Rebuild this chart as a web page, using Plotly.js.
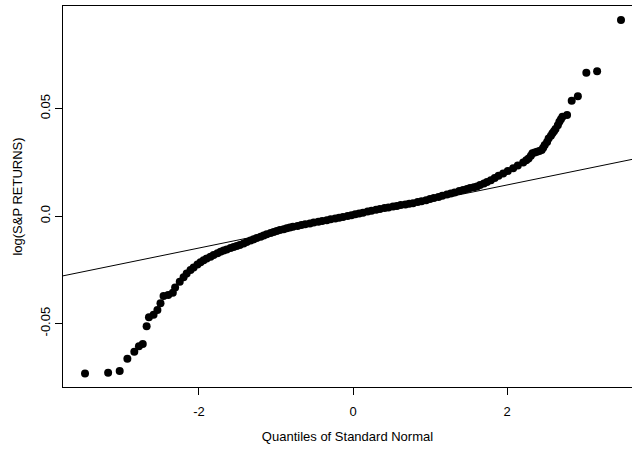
<!DOCTYPE html>
<html>
<head>
<meta charset="utf-8">
<script src="https://cdn.plot.ly/plotly-3.0.1.min.js"></script>
<style>html,body{margin:0;padding:0;background:#fff;}#chart{width:632px;height:450px;}</style>
</head>
<body>
<div id="chart"></div>
<script>
// Theoretical normal quantiles (x) and sample quantiles of log S&P returns (y)
const quantX = [
  -3.48, -3.18, -3.03, -2.93, -2.84, -2.78, -2.73, -2.68, -2.65, -2.59, -2.54, -2.50, -2.46, -2.40, -2.34, -2.31,
  -2.25, -2.20, -2.16, -2.11, -2.07, -2.02, -1.98, -1.94, -1.90, -1.85, -1.81, -1.76, -1.72, -1.68, -1.64, -1.59,
  -1.55, -1.51, -1.47, -1.42, -1.38, -1.33, -1.29, -1.25, -1.20, -1.16, -1.12, -1.07, -1.03, -0.99, -0.95, -0.90,
  -0.86, -0.82, -0.78, -0.72, -0.67, -0.62, -0.56, -0.51, -0.45, -0.40, -0.34, -0.29, -0.23, -0.18, -0.13, -0.07,
  -0.02, 0.03, 0.08, 0.13, 0.19, 0.24, 0.30, 0.35, 0.41, 0.46, 0.52, 0.57, 0.62, 0.68, 0.73, 0.78,
  0.84, 0.89, 0.95, 1.00, 1.05, 1.11, 1.16, 1.22, 1.27, 1.32, 1.38, 1.43, 1.48, 1.52, 1.57, 1.61,
  1.65, 1.70, 1.74, 1.79, 1.84, 1.89, 1.95, 2.01, 2.08, 2.14, 2.21, 2.25, 2.28, 2.31, 2.33, 2.36,
  2.39, 2.42, 2.45, 2.47, 2.49, 2.52, 2.54, 2.57, 2.59, 2.61, 2.63, 2.66, 2.68, 2.70, 2.72, 2.78,
  2.84, 2.92, 3.03, 3.17, 3.48
];
const logReturns = [
  -0.0732, -0.0729, -0.0721, -0.0664, -0.0631, -0.0606, -0.0595, -0.0512, -0.0471, -0.0459, -0.0437, -0.0405, -0.0372, -0.0367, -0.0357, -0.0332,
  -0.0306, -0.0284, -0.0267, -0.0251, -0.0239, -0.0225, -0.0215, -0.0205, -0.0197, -0.0189, -0.0181, -0.0173, -0.0166, -0.0160, -0.0155, -0.0149,
  -0.0144, -0.0139, -0.0135, -0.0128, -0.0121, -0.0114, -0.0108, -0.0102, -0.0096, -0.0090, -0.0085, -0.0079, -0.0074, -0.0069, -0.0065, -0.0061,
  -0.0057, -0.0053, -0.0050, -0.0046, -0.0042, -0.0038, -0.0034, -0.0030, -0.0026, -0.0023, -0.0019, -0.0015, -0.0011, -0.0008, -0.0004, 0.0000,
  0.0004, 0.0008, 0.0012, 0.0016, 0.0021, 0.0025, 0.0029, 0.0033, 0.0037, 0.0040, 0.0044, 0.0047, 0.0051, 0.0054, 0.0057, 0.0060,
  0.0065, 0.0069, 0.0074, 0.0079, 0.0084, 0.0089, 0.0095, 0.0100, 0.0105, 0.0110, 0.0116, 0.0121, 0.0126, 0.0130, 0.0134, 0.0138,
  0.0145, 0.0152, 0.0158, 0.0167, 0.0177, 0.0187, 0.0198, 0.0210, 0.0222, 0.0235, 0.0249, 0.0260, 0.0268, 0.0280, 0.0292, 0.0296,
  0.0299, 0.0303, 0.0307, 0.0318, 0.0330, 0.0345, 0.0361, 0.0373, 0.0385, 0.0395, 0.0405, 0.0422, 0.0439, 0.0450, 0.0462, 0.0470,
  0.0536, 0.0557, 0.0667, 0.0674, 0.0912
];
// Reference line (qqline)
const lineIntercept = -0.0002;
const lineSlope = 0.00733;
const lineX = [-4, 4];
const lineY = lineX.map(v => lineIntercept + lineSlope * v);

const xTickVals = [-2, 0, 2];
const xTickText = ["-2", "0", "2"];
const yTickVals = [-0.05, 0, 0.05];
const yTickText = ["-0.05", "0.0", "0.05"];

const font = {family: "Liberation Sans, Arial, sans-serif", size: 13, color: "#000"};

const traces = [
  {x: lineX, y: lineY, type: "scatter", mode: "lines", line: {color: "#000", width: 1}, hoverinfo: "skip", showlegend: false},
  {x: quantX, y: logReturns, type: "scatter", mode: "markers", marker: {color: "#000", size: 8}, showlegend: false}
];

const layout = {
  width: 632, height: 450,
  margin: {l: 63, r: 0, t: 6, b: 63, pad: 0},
  paper_bgcolor: "#fff", plot_bgcolor: "#fff",
  font: font,
  showlegend: false,
  xaxis: {
    range: [-3.766, 3.623], showgrid: false, zeroline: false,
    showline: true, linecolor: "#000", linewidth: 1, mirror: true,
    ticks: "outside", ticklen: 7, tickcolor: "#000", tickwidth: 1,
    tickvals: xTickVals, ticktext: xTickText, tickfont: font,
    ticklabelstandoff: 5,
    title: {text: "Quantiles of Standard Normal", font: font, standoff: 14}
  },
  yaxis: {
    range: [-0.0795, 0.0977], showgrid: false, zeroline: false,
    showline: true, linecolor: "#000", linewidth: 1, mirror: false,
    ticks: "outside", ticklen: 7, tickcolor: "#000", tickwidth: 1,
    tickvals: yTickVals, ticktext: yTickText, tickfont: font, tickangle: -90,
    title: {text: "log(S&P RETURNS)", font: font, standoff: 12}
  }
};

Plotly.newPlot("chart", traces, layout, {staticPlot: true, displayModeBar: false});
</script>
</body>
</html>
